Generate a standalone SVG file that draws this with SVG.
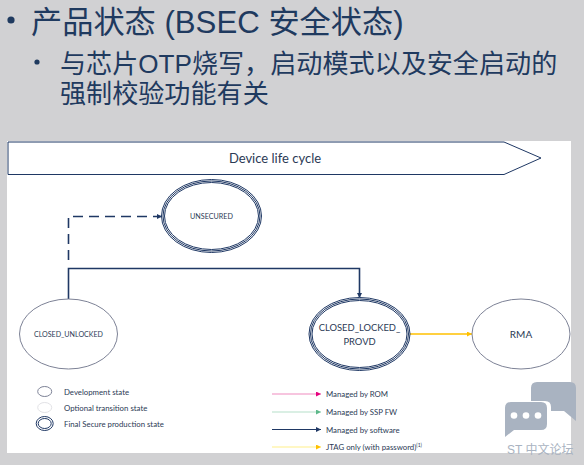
<svg xmlns="http://www.w3.org/2000/svg" width="584" height="465" viewBox="0 0 584 465">
<style>
.h{font-family:"Liberation Sans","Noto Sans CJK SC",sans-serif;fill:#1f3a5f}
.t{font-family:Lato,"Liberation Sans",sans-serif;fill:#2b3a55}
.m{font-size:7.800px}
.s{fill:#fff;stroke:#7d8296;stroke-width:1}
.f{fill:#fff;stroke:#1f3864;stroke-width:1}
.c{fill:none;stroke:#1f3864;stroke-width:1.6}
.l{fill:none;stroke-width:1.2}
.w{fill:#a9b3c1}
</style>
<defs>
<marker id="an" markerWidth="8" markerHeight="8" refX="5" refY="2.500" orient="auto" markerUnits="userSpaceOnUse"><path d="M0 0L5 2.500L0 5z" fill="#1f3864"/></marker>
<marker id="ay" markerWidth="8" markerHeight="8" refX="5" refY="2.500" orient="auto" markerUnits="userSpaceOnUse"><path d="M0 0L5 2.500L0 5z" fill="#ffc000"/></marker>
<marker id="lp" markerWidth="8" markerHeight="8" refX="5" refY="2.500" orient="auto" markerUnits="userSpaceOnUse"><path d="M0 0L5 2.500L0 5z" fill="#e6007e"/></marker>
<marker id="lg" markerWidth="8" markerHeight="8" refX="5" refY="2.500" orient="auto" markerUnits="userSpaceOnUse"><path d="M0 0L5 2.500L0 5z" fill="#5cb88a"/></marker>
</defs>
<rect width="584" height="465" fill="#d1d1d3"/>
<g id="heading">
<circle cx="11" cy="20" r="3.600" fill="#1f3a5f"/>
<text class="h" x="31" y="33" font-size="31.200">产品状态 (BSEC 安全状态)</text>
<circle cx="37" cy="62" r="2.600" fill="#1f3a5f"/>
<text class="h" x="60" y="73" font-size="26.100">与芯片OTP烧写，启动模式以及安全启动的</text>
<text class="h" x="60" y="103" font-size="26.100">强制校验功能有关</text>
</g>
<rect x="7" y="141" width="564" height="312" fill="#fff"/>
<g id="lifecycle-banner">
<path d="M8 142H504L541 158L504 174.500H8z" fill="#fff" stroke="#1f3864" stroke-width="1"/>
<text class="t" x="275" y="163" font-size="13" text-anchor="middle">Device life cycle</text>
</g>
<g id="connectors">
<path class="c" d="M68.500 260V216.500H162" stroke-dasharray="10 6" marker-end="url(#an)"/>
<path class="c" d="M68.500 299V268.500H359.500V298" marker-end="url(#an)"/>
<path d="M409 334H472" fill="none" stroke="#ffc000" stroke-width="1.400" marker-end="url(#ay)"/>
</g>
<g id="node-unsecured">
<ellipse class="f" cx="211.500" cy="216" rx="50" ry="36.500"/>
<ellipse class="f" cx="211.500" cy="216" rx="48.500" ry="35"/>
<ellipse class="f" cx="211.500" cy="216" rx="47" ry="33.500"/>
<text class="t" x="211.500" y="219" font-size="7.200" text-anchor="middle">UNSECURED</text>
</g>
<g id="node-closed-unlocked">
<ellipse class="s" cx="68.500" cy="334" rx="49" ry="35"/>
<text class="t" x="68.500" y="337" font-size="7.100" text-anchor="middle">CLOSED_UNLOCKED</text>
</g>
<g id="node-closed-locked-provd">
<ellipse class="f" cx="359.500" cy="334" rx="50.500" ry="36.500"/>
<ellipse class="f" cx="359.500" cy="334" rx="49" ry="35"/>
<ellipse class="f" cx="359.500" cy="334" rx="47.500" ry="33.500"/>
<text class="t" x="359.500" y="331" font-size="9.400" text-anchor="middle">CLOSED_LOCKED_</text>
<text class="t" x="359.500" y="345" font-size="9.400" text-anchor="middle">PROVD</text>
</g>
<g id="node-rma">
<ellipse class="s" cx="521" cy="334" rx="49" ry="35"/>
<text class="t" x="521" y="338" font-size="10" text-anchor="middle">RMA</text>
</g>
<g id="legend-states">
<ellipse class="s" cx="44.700" cy="391.500" rx="7" ry="5"/>
<text class="t m" x="64" y="394.500">Development state</text>
<ellipse cx="44.700" cy="407.500" rx="7" ry="5" fill="#fff" stroke="#e2e2e6"/>
<text class="t m" x="64" y="410.500">Optional transition state</text>
<ellipse class="f" cx="44.700" cy="423.500" rx="8.500" ry="7" stroke-width="1.300"/>
<ellipse class="f" cx="44.700" cy="423.500" rx="6.500" ry="5" stroke-width="1.300"/>
<text class="t m" x="64" y="426.500">Final Secure production state</text>
</g>
<g id="legend-arrows">
<path class="l" d="M272 394H321" stroke="#f08cc0" marker-end="url(#lp)"/>
<text class="t m" x="326" y="397">Managed by ROM</text>
<path class="l" d="M272 412H321" stroke="#b5dfc9" marker-end="url(#lg)"/>
<text class="t m" x="326" y="415">Managed by SSP FW</text>
<path class="l" d="M272 429.500H321" stroke="#1f3864" marker-end="url(#an)"/>
<text class="t m" x="326" y="432.500">Managed by software</text>
<path class="l" d="M272 447H321" stroke="#fff08a" marker-end="url(#ay)"/>
<text class="t m" x="326" y="450">JTAG only (with password)<tspan font-size="5" dy="-3">(1)</tspan></text>
</g>
<g id="watermark">
<path class="w" d="M537 382H570Q576 382 576 388V421L564 411H551V407Q551 401 545 401H531V388Q531 382 537 382z"/>
<path class="w" d="M511 402H541Q547 402 547 408V424Q547 430 541 430H514L505 437V408Q505 402 511 402z"/>
<circle cx="514" cy="415.500" r="3.300" fill="#fff"/><circle cx="526" cy="415.500" r="3.300" fill="#fff"/><circle cx="538" cy="415.500" r="3.300" fill="#fff"/>
<text x="507" y="454" font-size="12" fill="#a9b3c1" font-family="'Liberation Sans','Noto Sans CJK SC',sans-serif">ST 中文论坛</text>
</g>
</svg>
